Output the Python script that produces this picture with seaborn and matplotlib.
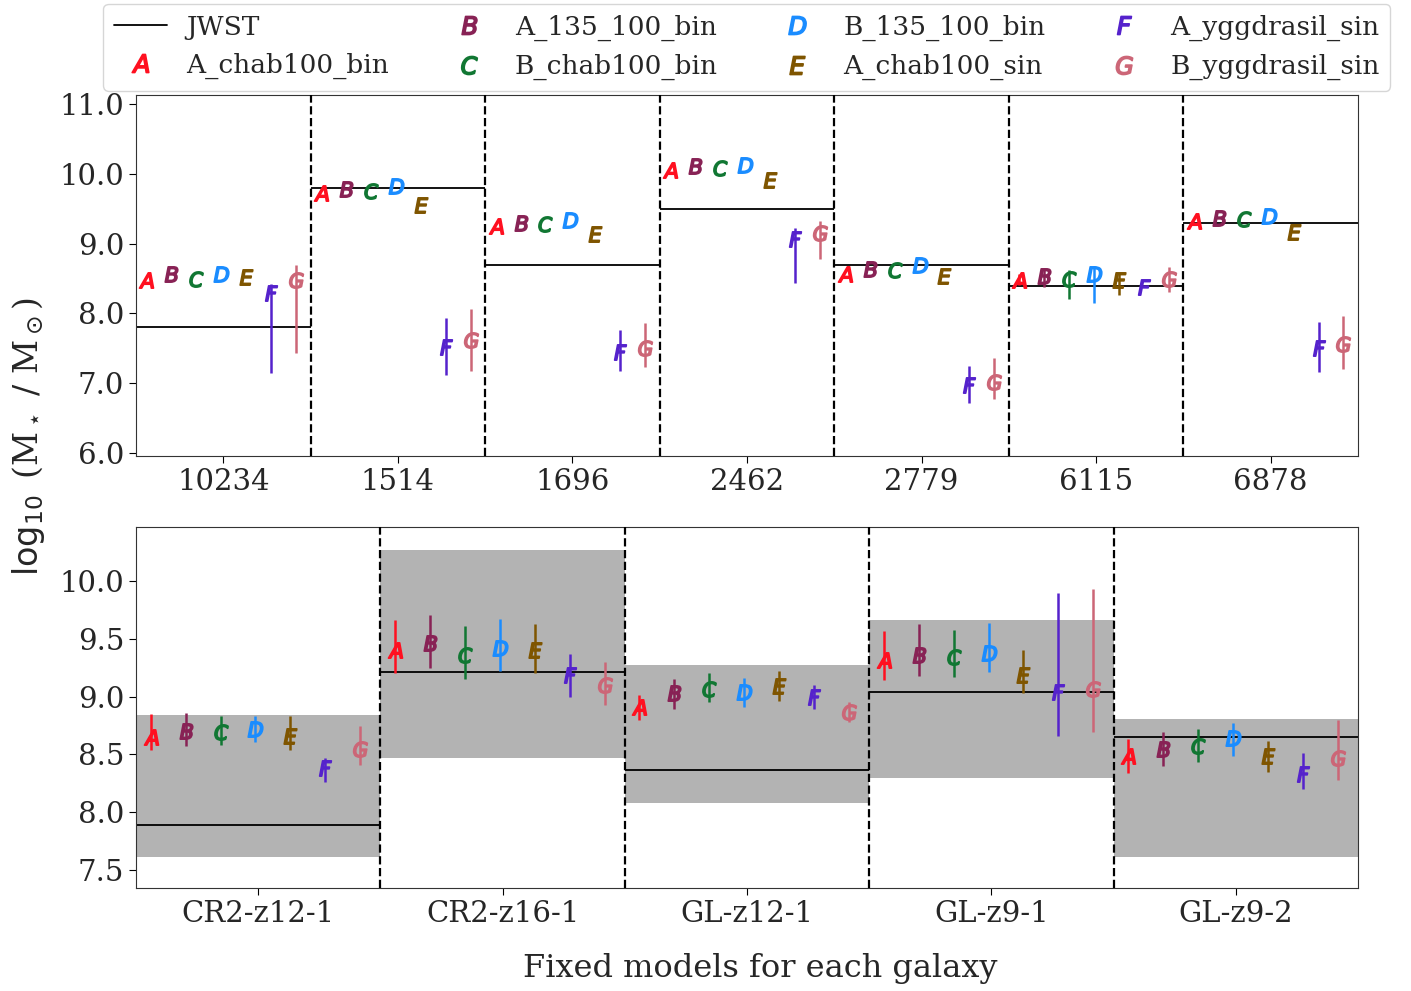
import matplotlib.pyplot as plt
import numpy as np
import seaborn as sns
from matplotlib.lines import Line2D

# ---- data ----
models = ["A_chab100_bin", "A_135_100_bin", "B_chab100_bin", "B_135_100_bin",
          "A_chab100_sin", "A_yggdrasil_sin", "B_yggdrasil_sin"]
letters = ["A", "B", "C", "D", "E", "F", "G"]
colors = ["#ff1020", "#882255", "#117733", "#1a8cff", "#7f5500", "#5522cc", "#cc6677"]

top_ids = ["10234", "1514", "1696", "2462", "2779", "6115", "6878"]
top_jwst = [7.80, 9.80, 8.70, 9.50, 8.70, 8.40, 9.30]
# rows = galaxies, columns = models A..G
top_val = [
    [8.48, 8.56, 8.49, 8.56, 8.52, 8.29, 8.48],
    [9.72, 9.79, 9.76, 9.82, 9.55, 7.52, 7.62],
    [9.25, 9.30, 9.28, 9.34, 9.14, 7.45, 7.51],
    [10.06, 10.11, 10.08, 10.13, 9.91, 9.06, 9.15],
    [8.56, 8.63, 8.62, 8.69, 8.54, 6.97, 7.02],
    [8.48, 8.54, 8.50, 8.56, 8.48, 8.38, 8.50],
    [9.32, 9.37, 9.35, 9.40, 9.17, 7.50, 7.56],
]
top_lo = [
    [8.48, 8.56, 8.49, 8.56, 8.52, 7.15, 7.43],
    [9.72, 9.79, 9.76, 9.82, 9.55, 7.12, 7.17],
    [9.25, 9.30, 9.28, 9.34, 9.14, 7.17, 7.23],
    [10.06, 10.11, 10.08, 10.13, 9.91, 8.43, 8.78],
    [8.56, 8.63, 8.62, 8.69, 8.54, 6.72, 6.77],
    [8.41, 8.38, 8.21, 8.15, 8.26, 8.38, 8.31],
    [9.32, 9.37, 9.35, 9.40, 9.17, 7.16, 7.21],
]
top_hi = [
    [8.48, 8.56, 8.49, 8.56, 8.52, 8.42, 8.69],
    [9.72, 9.79, 9.76, 9.82, 9.55, 7.94, 8.06],
    [9.25, 9.30, 9.28, 9.34, 9.14, 7.76, 7.86],
    [10.06, 10.11, 10.08, 10.13, 9.91, 9.22, 9.33],
    [8.56, 8.63, 8.62, 8.69, 8.54, 7.25, 7.36],
    [8.56, 8.65, 8.62, 8.68, 8.58, 8.38, 8.66],
    [9.32, 9.37, 9.35, 9.40, 9.17, 7.87, 7.96],
]

bot_ids = ["CR2-z12-1", "CR2-z16-1", "GL-z12-1", "GL-z9-1", "GL-z9-2"]
bot_jwst = [7.89, 9.21, 8.365, 9.04, 8.65]
bot_jwst_lo = [7.615, 8.47, 8.08, 8.30, 7.61]
bot_jwst_hi = [8.84, 10.27, 9.27, 9.66, 8.81]
bot_val = [
    [8.65, 8.70, 8.69, 8.72, 8.66, 8.38, 8.55],
    [9.40, 9.46, 9.36, 9.42, 9.40, 9.19, 9.10],
    [8.91, 9.03, 9.07, 9.04, 9.09, 9.00, 8.87],
    [9.32, 9.36, 9.34, 9.38, 9.19, 9.04, 9.07],
    [8.49, 8.55, 8.57, 8.64, 8.49, 8.33, 8.47],
]
bot_lo = [
    [8.54, 8.57, 8.58, 8.61, 8.54, 8.26, 8.41],
    [9.20, 9.25, 9.15, 9.22, 9.20, 9.00, 8.93],
    [8.80, 8.89, 8.95, 8.91, 8.96, 8.89, 8.78],
    [9.14, 9.18, 9.17, 9.21, 9.03, 8.66, 8.69],
    [8.34, 8.40, 8.43, 8.49, 8.35, 8.20, 8.28],
]
bot_hi = [
    [8.85, 8.86, 8.83, 8.83, 8.83, 8.47, 8.75],
    [9.66, 9.71, 9.61, 9.67, 9.63, 9.37, 9.30],
    [9.01, 9.15, 9.20, 9.16, 9.22, 9.10, 8.95],
    [9.57, 9.63, 9.58, 9.64, 9.40, 9.90, 9.93],
    [8.63, 8.69, 8.72, 8.77, 8.62, 8.51, 8.80],
]

sns.set_style("ticks")
plt.rcParams["font.family"] = "serif"
plt.rcParams["font.serif"] = ["DejaVu Serif"]

fig = plt.figure(figsize=(14.11, 9.91), dpi=100)
ax1 = fig.add_axes([0.0964, 0.5399, 0.866, 0.3642])
ax2 = fig.add_axes([0.0964, 0.1039, 0.866, 0.3643])

offsets = np.arange(7) / 7 - 0.44
ms = 11


def draw_panel(ax, ids, jwst, val, lo, hi, box_lo=None, box_hi=None):
    n = len(ids)
    for i in range(n):
        if box_lo is not None:
            ax.fill_between([i - 0.5, i + 0.5], box_lo[i], box_hi[i],
                            color="#b3b3b3", lw=0, zorder=0)
        ax.hlines(jwst[i], i - 0.5, i + 0.5, color="k", lw=1.3, zorder=1)
        for k in range(7):
            x = i + offsets[k]
            y = val[i][k]
            err = [[y - lo[i][k]], [hi[i][k] - y]]
            ax.errorbar(x, y, yerr=err, fmt="none", ecolor=colors[k],
                        elinewidth=1.8, capsize=0, zorder=2)
            ax.plot(x, y, marker=f"${letters[k]}$", ls="none",
                    color=colors[k], ms=ms, mew=1.2, zorder=3)
    for i in range(n - 1):
        ax.axvline(i + 0.5, color="k", ls="--", lw=1.6, zorder=4)
    ax.set_xlim(-0.5, n - 0.5)
    ax.set_xticks(range(n))
    ax.set_xticklabels(ids)
    ax.tick_params(labelsize=21, length=5, color="k")
    for s in ax.spines.values():
        s.set_color("#333333")


draw_panel(ax1, top_ids, top_jwst, top_val, top_lo, top_hi)
ax1.set_ylim(5.957, 11.13)
ax1.set_yticks(np.arange(6.0, 11.5, 1.0))
ax1.yaxis.set_major_formatter(plt.FormatStrFormatter("%.1f"))

draw_panel(ax2, bot_ids, bot_jwst, bot_val, bot_lo, bot_hi,
           bot_jwst_lo, bot_jwst_hi)
ax2.set_ylim(7.344, 10.467)
ax2.set_yticks(np.arange(7.5, 10.01, 0.5))
ax2.yaxis.set_major_formatter(plt.FormatStrFormatter("%.1f"))

fig.text(0.02, 0.56, r"$\log_{10}$ (M$_\star$ / M$_\odot$)", rotation=90,
         ha="center", va="center", fontsize=24)
fig.text(0.539, 0.023, "Fixed models for each galaxy", ha="center",
         va="center", fontsize=23)

handles = [Line2D([], [], color="k", lw=1.3)]
for k in range(7):
    handles.append(Line2D([], [], marker=f"${letters[k]}$", ls="none",
                          color=colors[k], ms=13, mew=1.2))
fig.legend(handles, ["JWST"] + models, loc="upper center",
           bbox_to_anchor=(0.5294, 1.0), ncol=4, fontsize=19,
           columnspacing=2.0, handletextpad=0.75, borderaxespad=0.15)

fig.savefig("out.png", dpi=100)
